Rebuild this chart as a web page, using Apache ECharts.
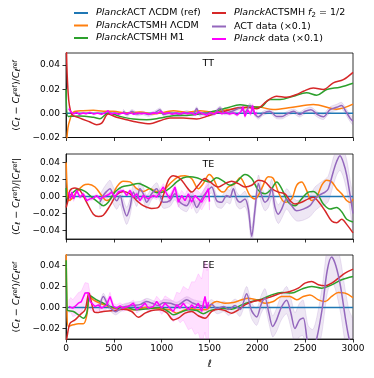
<!DOCTYPE html>
<html>
<head>
<meta charset="utf-8">
<script src="https://cdn.jsdelivr.net/npm/echarts@6.0.0/dist/echarts.min.js"></script>
<style>
html, body { margin: 0; padding: 0; background: #fff; }
#chart { width: 374px; height: 378px; }
</style>
</head>
<body>
<div id="chart"></div>
<script>
// x ticks
var ellTicks = [0, 500, 1000, 1500, 2000, 2500, 3000];

// ---- TT panel: [ell, value] ----
var ttRef = [[2, 0], [3000, 0]];
var ttLcdm = [[2,-0.03],[20,-0.012],[42,-0.005],[77,0.001],[181,0.0022],[286,0.0025],[390,0.0017],[495,0.0017],[634,0.0003],[773,0.0011],[913,-0.0006],[1122,0.0022],[1261,0.0008],[1401,0.0022],[1540,0.0008],[1679,0.003],[1819,0.0042],[1993,0.0055],[2166,0.0032],[2350,0.0048],[2585,0.0074],[2829,0.0035],[3000,0.0076]];
var ttM1 = [[2,0.02],[24,-0.0025],[146,-0.0022],[286,-0.0033],[355,-0.0044],[442,0.0003],[564,-0.0025],[704,-0.0047],[843,-0.0053],[982,-0.0039],[1122,-0.0019],[1261,-0.0017],[1401,-0.0006],[1540,0.0017],[1679,0.0044],[1819,0.0072],[1923,0.0058],[2028,0.005],[2132,0.0114],[2237,0.0114],[2376,0.0142],[2515,0.017],[2620,0.015],[2725,0.0197],[2864,0.0217],[3000,0.0250]];
var ttF2 = [[2,0.07],[20,0.02],[59,-0.0006],[146,-0.0039],[251,-0.0072],[320,-0.0094],[373,-0.0081],[442,-0.0006],[530,-0.0033],[634,-0.0053],[739,-0.0072],[878,-0.0086],[982,-0.0061],[1087,-0.0039],[1226,-0.0039],[1366,-0.0047],[1470,-0.0025],[1575,0.0003],[1679,0.0022],[1784,0.0044],[1888,0.005],[1993,0.0039],[2097,0.010],[2202,0.0142],[2306,0.0133],[2411,0.0156],[2481,0.0183],[2585,0.021],[2690,0.0197],[2794,0.0253],[2899,0.028],[3000,0.0340]];
// [ell, value, half-width]
var ttAct = [[600,0.0017,0.0015],[640,-0.001,0.0015],[690,0.0017,0.0015],[740,-0.0006,0.0015],[800,0.0003,0.0015],[860,-0.001,0.0015],[930,0.0006,0.0015],[982,0.003,0.0015],[1020,-0.001,0.0015],[1087,0.0003,0.0015],[1190,-0.001,0.0015],[1261,0.0008,0.0015],[1330,-0.0005,0.0015],[1366,0.004,0.0015],[1400,-0.001,0.0015],[1470,0.0003,0.0015],[1540,-0.0005,0.0015],[1610,0.0044,0.0016],[1660,0.0003,0.0016],[1750,0.0022,0.0016],[1820,0.0044,0.0017],[1870,0.0011,0.0017],[1923,0.0065,0.0018],[1970,0.0,0.0018],[2010,-0.003,0.0018],[2060,0.0,0.0018],[2130,0.0017,0.0019],[2200,-0.0025,0.0019],[2260,-0.0025,0.002],[2306,-0.0006,0.002],[2380,0.0017,0.002],[2440,-0.001,0.0021],[2500,0.0017,0.0021],[2560,0.003,0.0022],[2630,-0.001,0.0022],[2690,-0.0028,0.0023],[2760,0.003,0.0024],[2830,0.005,0.0025],[2880,0.0065,0.0026],[2930,0.001,0.0027],[2970,-0.004,0.0028],[3000,-0.0065,0.003]];
var ttPlanck = [[30,0.004,0.001],[50,0.0012,0.0008],[80,-0.0005,0.0006],[110,0.0008,0.0005],[140,-0.0008,0.0005],[180,0.0003,0.0005],[210,-0.0003,0.0005],[250,0.0008,0.0005],[290,-0.0006,0.0005],[330,0.0002,0.0005],[370,-0.0008,0.0005],[410,0.0005,0.0005],[440,0.0022,0.0005],[470,-0.0006,0.0005],[510,0.0003,0.0005],[550,-0.0008,0.0005],[590,0.0003,0.0005],[630,-0.0003,0.0005],[670,0.0006,0.0005],[710,-0.0008,0.0005],[750,0.0004,0.0005],[790,-0.0004,0.0005],[830,0.0002,0.0005],[870,-0.0008,0.0005],[910,0.0005,0.0005],[950,-0.0002,0.0005],[990,0.0016,0.0006],[1030,-0.0004,0.0006],[1070,0.0006,0.0006],[1110,-0.0008,0.0006],[1150,0.0004,0.0006],[1190,-0.0006,0.0006],[1230,0.0008,0.0007],[1270,-0.0004,0.0007],[1310,0.0006,0.0007],[1350,-0.0012,0.0008],[1390,0.0012,0.0008],[1430,-0.0002,0.0008],[1470,-0.0016,0.0009],[1510,0.0008,0.0009],[1550,-0.0006,0.001],[1590,0.0012,0.001],[1630,-0.0004,0.001],[1670,0.0008,0.0011],[1710,-0.0006,0.0011],[1750,0.0004,0.0012],[1790,-0.0014,0.0012],[1830,0.0016,0.0013],[1850,0.0055,0.0013],[1870,-0.0025,0.0014],[1900,0.0028,0.0015],[1930,-0.0006,0.0015],[1950,0.0065,0.0016],[1975,-0.001,0.0016],[1995,0.0005,0.0017]];

// ---- TE panel ----
var teRef = [[2, 0], [3000, 0]];
var teLcdm = [[2,0.04],[12,0.01],[24,-0.0048],[59,-0.0028],[111,0.0052],[181,0.0132],[233,0.0144],[303,0.0112],[373,0.0012],[425,-0.0048],[477,-0.0008],[530,0.0112],[599,0.018],[669,0.0172],[739,0.0092],[808,0.006],[878,0.0092],[948,0.006],[1017,0.0072],[1087,0.0152],[1174,0.0232],[1244,0.0244],[1313,0.0212],[1383,0.0092],[1435,0.0152],[1498,0.026],[1540,0.0212],[1592,0.0092],[1645,0.0052],[1697,0.0112],[1767,0.0152],[1819,0.022],[1871,0.0132],[1923,0.0012],[1976,-0.0028],[2045,0.0092],[2115,0.0232],[2167,0.0212],[2220,0.0052],[2289,-0.0068],[2359,-0.0028],[2411,0.0132],[2463,0.0172],[2515,0.0072],[2568,-0.0048],[2620,-0.0008],[2673,0.0132],[2725,0.0192],[2777,0.0172],[2829,0.0092],[2882,0.0032],[2934,-0.0048],[2970,-0.007],[3000,-0.003]];
var teM1 = [[2,0.01],[14,-0.0028],[59,0.0032],[129,0.0084],[199,0.006],[268,-0.0008],[338,-0.0068],[390,-0.0108],[442,-0.0068],[512,0.0052],[582,0.0112],[669,0.0132],[756,0.0152],[808,0.0132],[878,0.0092],[948,0.0044],[1017,0.0052],[1087,0.01],[1157,0.0172],[1226,0.022],[1296,0.0232],[1366,0.022],[1435,0.0192],[1505,0.0172],[1575,0.022],[1645,0.018],[1714,0.0132],[1784,0.0172],[1871,0.026],[1941,0.0212],[2011,0.0072],[2080,0.0032],[2150,0.0092],[2202,0.0172],[2254,0.0092],[2324,-0.0068],[2394,-0.0108],[2463,-0.0028],[2533,0.0052],[2585,0.006],[2638,0.0012],[2690,-0.0088],[2760,-0.0148],[2829,-0.0128],[2882,-0.018],[2934,-0.0268],[3000,-0.030]];
var teF2 = [[2,-0.013],[20,-0.005],[42,0.0072],[94,0.01],[146,0.0072],[216,-0.0068],[286,-0.0208],[338,-0.0236],[390,-0.022],[460,-0.0108],[530,0.002],[599,0.006],[669,0.0032],[739,-0.0048],[808,-0.0108],[895,-0.014],[965,-0.0128],[1017,0.0012],[1070,0.0192],[1122,0.0244],[1192,0.0212],[1261,0.0112],[1313,0.0052],[1383,0.0132],[1453,0.0212],[1505,0.0172],[1592,0.0112],[1662,0.0152],[1732,0.018],[1801,0.0152],[1871,0.0112],[1941,0.0132],[2011,0.0192],[2080,0.0172],[2150,0.0092],[2220,0.0052],[2289,0.0032],[2341,-0.0048],[2394,-0.0088],[2463,-0.0068],[2533,-0.0028],[2585,-0.0008],[2638,-0.006],[2708,-0.0168],[2777,-0.0288],[2829,-0.0308],[2882,-0.0268],[2934,-0.0328],[3000,-0.0428]];
var teAct = [[355,-0.0068,0.008],[390,0.0012,0.008],[425,0.006,0.009],[460,0.0092,0.01],[495,0.001,0.01],[530,-0.005,0.01],[565,0.001,0.01],[599,-0.0128,0.01],[634,-0.0228,0.01],[669,-0.0128,0.01],[704,0.0052,0.009],[739,-0.0028,0.009],[773,0.0092,0.008],[808,0.0032,0.008],[843,-0.0068,0.008],[895,0.0032,0.007],[948,0.0092,0.007],[982,0.0012,0.007],[1017,-0.0068,0.007],[1087,-0.0048,0.007],[1139,0.0032,0.007],[1192,-0.0068,0.007],[1261,-0.0108,0.007],[1313,-0.0008,0.007],[1366,-0.0128,0.007],[1418,-0.0028,0.007],[1470,0.0052,0.007],[1523,0.0112,0.007],[1575,-0.0048,0.007],[1627,-0.0068,0.007],[1679,0.0012,0.008],[1714,-0.0008,0.008],[1749,0.0092,0.008],[1784,-0.0028,0.008],[1819,-0.0068,0.008],[1871,-0.0028,0.009],[1906,-0.0148,0.009],[1941,-0.047,0.01],[1976,-0.0148,0.01],[2011,0.0152,0.01],[2045,0.0012,0.01],[2080,-0.0068,0.01],[2115,-0.0028,0.01],[2150,0.0092,0.011],[2185,-0.0128,0.011],[2220,-0.0208,0.011],[2254,-0.0148,0.011],[2306,-0.0028,0.012],[2359,-0.0108,0.012],[2411,-0.0168,0.012],[2480,-0.0148,0.013],[2550,-0.0108,0.013],[2603,-0.0028,0.014],[2655,0.002,0.014],[2708,0.0052,0.015],[2742,0.0092,0.015],[2794,0.0292,0.016],[2829,0.0412,0.016],[2864,0.048,0.017],[2899,0.040,0.017],[2934,0.0252,0.018],[2970,0.0012,0.018],[3000,-0.02,0.019]];
var tePlanck = [[30,0.0052,0.003],[45,-0.0028,0.003],[60,0.0052,0.003],[80,-0.0028,0.003],[111,0.0072,0.003],[146,-0.0008,0.002],[181,0.0032,0.002],[216,-0.0048,0.002],[251,-0.0028,0.002],[286,-0.002,0.002],[320,0.0012,0.002],[355,-0.0028,0.002],[390,-0.0008,0.002],[442,0.002,0.002],[477,0.0052,0.002],[512,-0.0008,0.002],[547,0.0052,0.002],[599,0.0072,0.002],[634,0.0012,0.002],[669,0.0072,0.002],[704,-0.0008,0.002],[739,0.0032,0.002],[773,-0.0048,0.003],[808,0.0012,0.003],[860,-0.0028,0.003],[913,0.0012,0.003],[948,-0.0008,0.003],[982,0.0052,0.004],[1017,0.0112,0.004],[1052,0.0032,0.004],[1087,-0.0028,0.005],[1139,0.0112,0.005],[1174,-0.0068,0.006],[1209,0.0012,0.006],[1244,-0.0048,0.007],[1279,0.0032,0.007],[1313,-0.0068,0.008],[1348,0.0012,0.008],[1383,-0.0028,0.009],[1418,-0.0068,0.009],[1453,0.0012,0.01],[1488,0.0092,0.01],[1500,-0.006,0.01]];

// ---- EE panel ----
var eeRef = [[2, 0], [3000, 0]];
var eeLcdm = [[2,0.06],[10,0.0],[24,-0.018],[77,-0.0165],[129,-0.0155],[181,-0.0155],[216,-0.008],[251,0.0105],[286,0.0073],[355,0.0041],[425,0.0016],[495,-0.0006],[582,0.0003],[669,-0.0022],[756,-0.0016],[843,0.0003],[930,-0.0006],[1017,-0.0016],[1087,-0.0022],[1157,-0.0054],[1226,-0.0029],[1296,-0.0006],[1366,-0.0022],[1470,-0.002],[1530,0.004],[1575,0.0057],[1662,0.0041],[1749,0.0048],[1836,0.0073],[1906,0.0089],[1993,0.0073],[2080,0.0041],[2167,0.0057],[2254,0.0105],[2341,0.0105],[2411,0.0073],[2480,0.0105],[2550,0.012],[2638,0.0073],[2708,0.0057],[2777,0.0105],[2847,0.0143],[2917,0.0137],[3000,0.0095]];
var eeM1 = [[2,0.045],[8,0.01],[14,-0.0022],[77,-0.0038],[129,-0.007],[181,-0.0102],[216,-0.0054],[251,0.0111],[320,0.0073],[390,0.0041],[460,0.001],[547,-0.0006],[634,0],[721,-0.0022],[808,-0.0016],[895,-0.0008],[982,0],[1070,-0.0038],[1122,-0.007],[1192,-0.0048],[1279,-0.0022],[1366,-0.0029],[1435,-0.006],[1505,-0.003],[1627,-0.0006],[1732,-0.0016],[1836,0.0025],[1941,0.0057],[2045,0.0079],[2150,0.012],[2254,0.0143],[2359,0.0137],[2463,0.0175],[2568,0.020],[2673,0.0184],[2777,0.0216],[2882,0.0264],[3000,0.0295]];
var eeF2 = [[2,-0.032],[7,-0.03],[42,-0.015],[94,-0.0118],[146,-0.007],[199,-0.0022],[240,0.0137],[268,0.0041],[290,-0.0036],[320,-0.0048],[390,-0.0038],[495,-0.0029],[599,-0.0016],[686,-0.0038],[756,-0.0092],[826,-0.0054],[895,-0.0029],[982,-0.0022],[1052,-0.0048],[1122,-0.0118],[1174,-0.0102],[1244,-0.0054],[1313,-0.0038],[1383,-0.0079],[1453,-0.0102],[1523,-0.0038],[1592,-0.0016],[1662,-0.0029],[1732,-0.0054],[1801,-0.0022],[1871,0.0025],[1958,0.0057],[2045,0.0073],[2150,0.0105],[2254,0.0137],[2341,0.0152],[2428,0.0184],[2498,0.0232],[2568,0.0248],[2638,0.0216],[2708,0.0206],[2777,0.0232],[2847,0.0279],[2917,0.0327],[3000,0.0365]];
var eeAct = [[350,0.0,0.003],[390,0.0105,0.003],[430,0.004,0.003],[470,-0.001,0.003],[520,-0.004,0.003],[570,-0.001,0.003],[620,0.001,0.003],[700,0.002,0.003],[780,0.003,0.003],[843,0.0057,0.003],[900,0.004,0.003],[960,0.002,0.003],[1020,0.0045,0.003],[1090,0.004,0.003],[1160,0.002,0.003],[1261,0.0073,0.003],[1330,0.004,0.0035],[1400,0.002,0.004],[1480,0.001,0.004],[1520,0.003,0.0045],[1580,-0.001,0.005],[1650,0.001,0.005],[1700,-0.002,0.0055],[1767,0.002,0.006],[1820,-0.002,0.0065],[1888,0.013,0.007],[1940,-0.003,0.0075],[1993,-0.009,0.008],[2040,0.003,0.0085],[2080,0.009,0.009],[2120,-0.005,0.0095],[2160,-0.018,0.01],[2200,-0.012,0.011],[2250,0.0,0.012],[2306,0.007,0.013],[2350,-0.005,0.014],[2393,-0.02,0.015],[2440,-0.012,0.016],[2480,-0.01,0.017],[2530,-0.035,0.018],[2580,-0.04,0.019],[2620,-0.03,0.02],[2680,0.0,0.021],[2730,0.035,0.022],[2777,0.048,0.023],[2820,0.04,0.024],[2870,0.02,0.025],[2920,-0.01,0.026],[2960,-0.03,0.027],[3000,-0.04,0.028]];
var eePlanck = [[30,0.001,0.006],[50,0.0025,0.007],[70,-0.0006,0.008],[94,0.001,0.009],[129,0.0041,0.01],[160,0.0055,0.01],[199,0.0137,0.01],[233,0.014,0.009],[251,0.006,0.008],[268,0.0041,0.007],[303,0.001,0.006],[338,0.0025,0.005],[373,-0.0006,0.004],[425,0.0025,0.004],[460,0.0105,0.004],[495,0.001,0.003],[530,-0.0006,0.003],[564,0.0016,0.003],[599,-0.0006,0.003],[652,0.001,0.003],[704,0.0041,0.003],[739,-0.0022,0.003],[791,0.001,0.003],[826,0.0041,0.004],[860,-0.0006,0.004],[913,0.001,0.004],[948,0.0057,0.005],[1000,-0.0006,0.006],[1035,0.0041,0.007],[1070,0.001,0.008],[1122,-0.0038,0.01],[1157,0.0025,0.012],[1192,-0.0006,0.014],[1226,0.0041,0.016],[1279,-0.0022,0.019],[1313,0.0025,0.022],[1348,-0.0006,0.025],[1383,0.0041,0.028],[1418,-0.0038,0.031],[1453,0.0105,0.034],[1475,-0.001,0.036],[1490,0.005,0.037]];

var COL = { ref: '#1f77b4', lcdm: '#ff7f0e', m1: '#2ca02c', f2: '#d62728', act: '#9467bd', planck: '#ff00ff' };
var NAMES = {
    ref: 'PlanckACT ΛCDM (ref)', lcdm: 'PlanckACTSMH ΛCDM', m1: 'PlanckACTSMH M1',
    f2: 'PlanckACTSMH f2 = 1/2', act: 'ACT data (×0.1)', planck: 'Planck data (×0.1)'
};
var FONT = 'DejaVu Sans';

function pairs(d) {
    return d.map(function (p) { return [p[0], p[1]]; });
}
function curve(key, data, idx, smooth) {
    return {
        type: 'line', name: NAMES[key], xAxisIndex: idx, yAxisIndex: idx,
        data: data, symbol: 'none', smooth: smooth, silent: true,
        lineStyle: { color: COL[key], width: 1.5 }, itemStyle: { color: COL[key] }
    };
}
// shaded error band, drawn as one polygon through the axis scales
function band(data, idx, fill, edge, smooth) {
    return {
        type: 'custom', xAxisIndex: idx, yAxisIndex: idx, silent: true, clip: true, z: 1,
        data: data,
        encode: { x: 0, y: 1 },
        renderItem: function (params, api) {
            if (params.dataIndex !== 0) return null;
            var up = [], lo = [];
            data.forEach(function (p) {
                up.push(api.coord([p[0], p[1] + p[2]]));
                lo.push(api.coord([p[0], p[1] - p[2]]));
            });
            return {
                type: 'polygon',
                shape: { points: up.concat(lo.reverse()), smooth: smooth },
                style: { fill: fill, stroke: edge, lineWidth: 0.6 }
            };
        }
    };
}
function panel(idx, ref, lcdm, m1, f2, act, planck) {
    var s = [];
    s.push(band(act, idx, 'rgba(148,103,189,0.16)', 'rgba(148,103,189,0.3)', 0.25));
    s.push(band(planck, idx, 'rgba(255,0,255,0.12)', 'rgba(255,0,255,0.2)', 0));
    s.push(curve('ref', ref, idx, false));
    s.push(curve('lcdm', lcdm, idx, 0.35));
    s.push(curve('m1', m1, idx, 0.35));
    s.push(curve('f2', f2, idx, 0.35));
    s.push(curve('act', pairs(act), idx, 0.3));
    s.push(curve('planck', pairs(planck), idx, false));
    return s;
}

var richName = {
    t: { fontFamily: FONT, fontSize: 9.5, color: '#000' },
    c: { fontFamily: FONT, fontSize: 9.5, fontStyle: 'italic', color: '#000' },
    s: { fontFamily: FONT, fontSize: 7, fontStyle: 'italic', verticalAlign: 'bottom', color: '#000' },
    u: { fontFamily: FONT, fontSize: 6.5, verticalAlign: 'top', color: '#000' }
};
var nameRatio = '{t|(}{c|C}{s|ℓ}{t| − }{c|C}{s|ℓ}{u|ref}{t|)/}{c|C}{s|ℓ}{u|ref}';
var nameTE = '{t|(}{c|C}{s|ℓ}{t| − }{c|C}{s|ℓ}{u|ref}{t|)/|}{c|C}{s|ℓ}{u|ref}{t||}';

var grids = [
    { top: 53, height: 84.5 },
    { top: 154, height: 85 },
    { top: 255, height: 84 }
];
var yRanges = [[-0.02, 0.05], [-0.05, 0.05], [-0.03, 0.05]];
var yTicks = [[-0.02, 0, 0.02, 0.04], [-0.04, -0.02, 0, 0.02, 0.04], [-0.02, 0, 0.02, 0.04]];
var yNames = [nameRatio, nameTE, nameRatio];
var panelTitles = ['TT', 'TE', 'EE'];

var chart = echarts.init(document.getElementById('chart'));
var axisStyle = { color: '#000', width: 0.8 };

function fmtY(v) {
    return (v < 0 ? '\u2212' : '') + Math.abs(v).toFixed(2);
}

function legendFmt(name) {
    if (name === NAMES.f2) return '{i|Planck}{n|ACTSMH }{i|f}{s|2}{n| = 1/2}';
    if (name === NAMES.planck) return '{i|Planck}{n| data (×0.1)}';
    if (name.indexOf('Planck') === 0) return '{i|Planck}{n|' + name.slice(6) + '}';
    return '{n|' + name + '}';
}
var legendText = {
    fontFamily: FONT, fontSize: 9.5, color: '#000', padding: [0, 0, 0, 3],
    rich: {
        n: { fontFamily: FONT, fontSize: 9.5, color: '#000', lineHeight: 12 },
        i: { fontFamily: FONT, fontSize: 9.5, fontStyle: 'italic', color: '#000', lineHeight: 12 },
        s: { fontFamily: FONT, fontSize: 7, color: '#000', verticalAlign: 'bottom', lineHeight: 12 }
    }
};

var series = []
    .concat(panel(0, ttRef, ttLcdm, ttM1, ttF2, ttAct, ttPlanck))
    .concat(panel(1, teRef, teLcdm, teM1, teF2, teAct, tePlanck))
    .concat(panel(2, eeRef, eeLcdm, eeM1, eeF2, eeAct, eePlanck));

chart.setOption({
    animation: false,
    backgroundColor: '#fff',
    legend: [{
        orient: 'vertical', left: 69, top: 3, icon: 'rect', itemWidth: 14, itemHeight: 2, itemGap: 2.5,
        data: [NAMES.ref, NAMES.lcdm, NAMES.m1], formatter: legendFmt, textStyle: legendText
    }, {
        orient: 'vertical', left: 207, top: 3, icon: 'rect', itemWidth: 14, itemHeight: 2, itemGap: 2.5,
        data: [NAMES.f2, NAMES.act, NAMES.planck], formatter: legendFmt, textStyle: legendText
    }],
    grid: grids.map(function (g) {
        return {
            left: 66, width: 287, top: g.top, height: g.height, show: true,
            borderColor: '#000', borderWidth: 0.8, backgroundColor: 'transparent',
            containLabel: false, outerBoundsMode: 'none'
        };
    }),
    xAxis: grids.map(function (g, i) {
        return {
            type: 'value', gridIndex: i, min: 0, max: 3000, interval: 500,
            name: i === 2 ? 'ℓ' : '', nameLocation: 'middle', nameGap: 20,
            nameTextStyle: { fontFamily: FONT, fontSize: 10, fontStyle: 'italic', color: '#000' },
            axisLine: { show: true, onZero: false, lineStyle: axisStyle },
            axisTick: { show: true, length: 3.5, lineStyle: axisStyle },
            axisLabel: {
                show: i === 2, margin: 5, fontFamily: FONT, fontSize: 9, color: '#000',
                formatter: function (v) { return String(v); }
            },
            splitLine: { show: false }
        };
    }),
    yAxis: grids.map(function (g, i) {
        return {
            type: 'value', gridIndex: i, min: yRanges[i][0], max: yRanges[i][1],
            name: yNames[i], nameLocation: 'middle', nameRotate: 90, nameGap: 42,
            nameTextStyle: { rich: richName },
            axisLine: { show: true, onZero: false, lineStyle: axisStyle },
            axisTick: { show: true, length: 3.5, lineStyle: axisStyle, customValues: yTicks[i] },
            axisLabel: {
                margin: 6, fontFamily: FONT, fontSize: 9, color: '#000',
                customValues: yTicks[i], formatter: fmtY
            },
            splitLine: { show: false }
        };
    }),
    graphic: panelTitles.map(function (t, i) {
        return {
            type: 'text', left: 209.5 - 7, top: grids[i].top + 6,
            style: { text: t, fontFamily: FONT, fontSize: 9.5, fill: '#000' }
        };
    }),
    series: series
});
</script>
</body>
</html>
